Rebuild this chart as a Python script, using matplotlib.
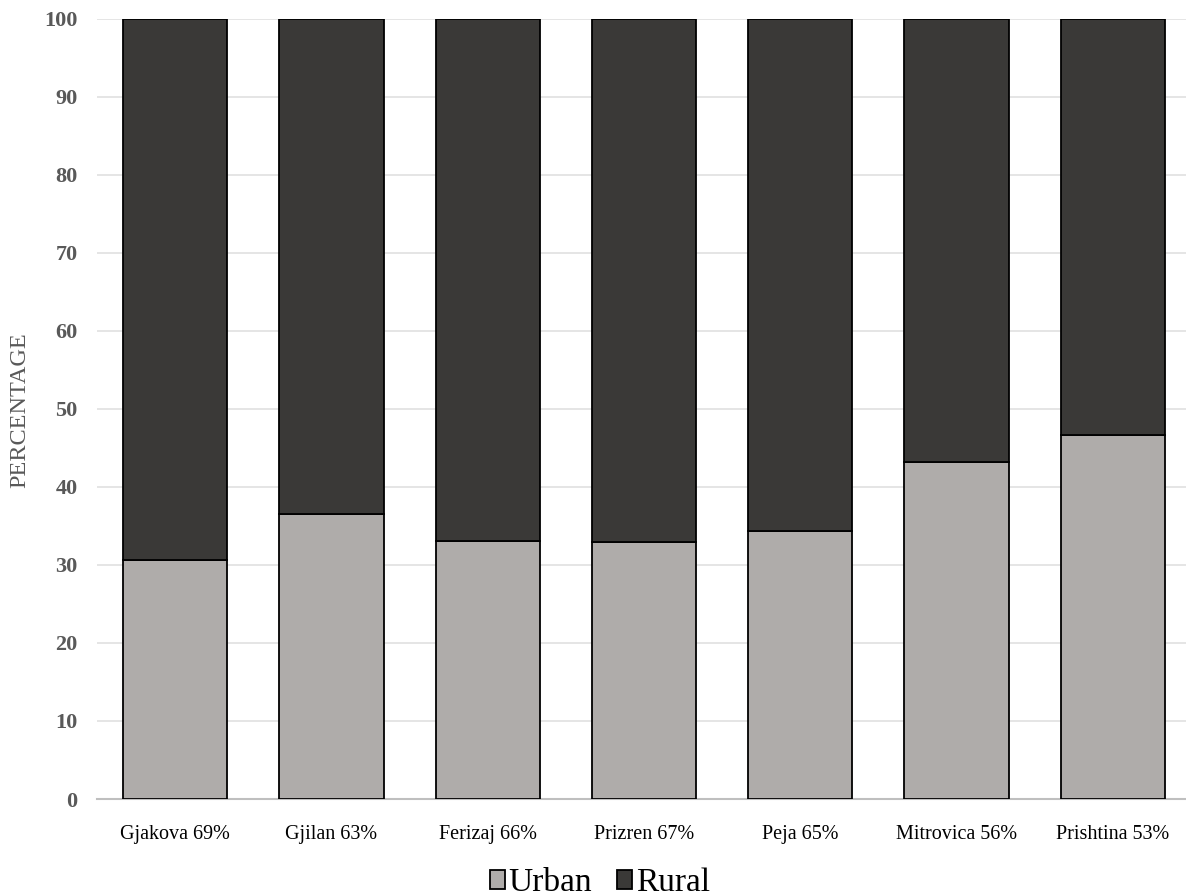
import numpy as np
import matplotlib.pyplot as plt

# urban / rural share of population by region (%)
regions = ["Gjakova 69%", "Gjilan 63%", "Ferizaj 66%", "Prizren 67%",
           "Peja 65%", "Mitrovica 56%", "Prishtina 53%"]
urban = [30.7, 36.6, 33.1, 33.0, 34.3, 43.2, 46.7]
rural = [100 - u for u in urban]

plt.rcParams['font.family'] = ['Liberation Serif', 'DejaVu Serif']

fig = plt.figure(figsize=(11.86, 8.96), dpi=100)
ax = fig.add_axes([97/1186, 1 - 799/896, 1094/1186, 780/896])

x = np.arange(len(regions))
w = 0.667
ax.bar(x, urban, w, color='#afacaa', edgecolor='black', linewidth=1.3, label='Urban', zorder=3)
ax.bar(x, rural, w, bottom=urban, color='#3a3937', edgecolor='black', linewidth=1.3, label='Rural', zorder=3)

ax.set_xlim(-0.5, len(regions) - 0.5)
ax.set_ylim(0, 100)
ax.set_yticks(range(0, 101, 10))
ax.yaxis.grid(True, color='#e0e0e0', linewidth=1.2, zorder=0)
ax.set_axisbelow(True)
for s in ['top', 'right', 'left']:
    ax.spines[s].set_visible(False)
ax.spines['bottom'].set_color('#bfbfbf')
ax.spines['bottom'].set_linewidth(1.5)
ax.tick_params(axis='both', length=0)
ax.tick_params(axis='y', pad=14)
ax.tick_params(axis='x', pad=19)

ax.set_xticks(x)
ax.set_xticklabels(regions, fontsize=14.5, color='black')
for t in ax.get_yticklabels():
    t.set_fontsize(16)
    t.set_fontweight('bold')
    t.set_color('#595959')

fig.text(20/1186, 1 - 410/896, 'PERCENTAGE', rotation=90, fontsize=17.5,
         color='#595959', ha='center', va='center')

fig.legend(loc='center', bbox_to_anchor=(600/1186, 1 - 883/896), ncol=2, frameon=False,
           fontsize=24, handlelength=0.45, handleheight=0.5, handletextpad=0.1,
           columnspacing=0.75)

fig.savefig('out.png', dpi=100)
